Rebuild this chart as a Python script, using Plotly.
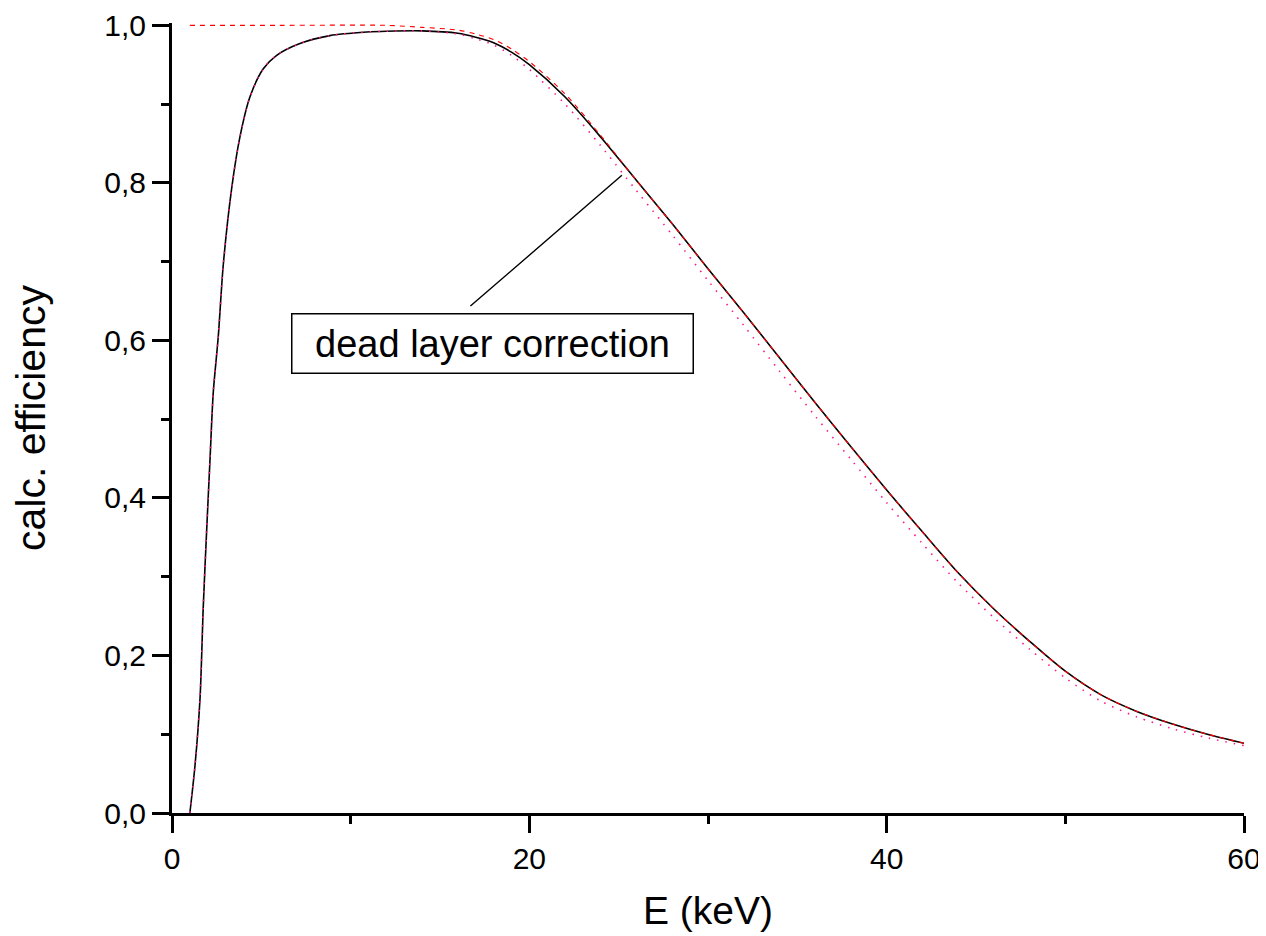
import plotly.graph_objects as go

# ---- data ----
energy_kev = [1.0, 1.29, 1.57, 1.75, 1.94, 2.13, 2.31, 2.59, 2.87, 3.34, 3.8, 4.36, 5.11, 5.86,
              7.16, 8.84, 10.9, 12.0, 14.0, 16.0, 17.0, 18.0, 19.0, 20.0, 22.0, 24.0, 26.0,
              28.0, 30.0, 32.0, 34.0, 36.0, 38.0, 40.0, 42.0, 44.0, 46.0, 48.0, 50.0, 52.0,
              54.0, 56.0, 58.0, 60.0]

eff_dead_layer = [0.0, 0.061, 0.146, 0.262, 0.359, 0.45, 0.534, 0.605, 0.696, 0.793, 0.858, 0.909,
                  0.945, 0.962, 0.977, 0.987, 0.9915, 0.9925, 0.993, 0.990, 0.985, 0.978, 0.966,
                  0.950, 0.909, 0.858, 0.803, 0.748, 0.691, 0.635, 0.578, 0.521, 0.465, 0.410,
                  0.357, 0.305, 0.259, 0.218, 0.180, 0.150, 0.129, 0.113, 0.0997, 0.0886]

eff_dotted = [0.0, 0.061, 0.146, 0.262, 0.359, 0.45, 0.534, 0.605, 0.696, 0.793, 0.858, 0.909,
              0.945, 0.962, 0.977, 0.987, 0.9915, 0.9925, 0.993, 0.989, 0.983, 0.975, 0.962,
              0.944, 0.900, 0.847, 0.790, 0.734, 0.676, 0.619, 0.561, 0.504, 0.449, 0.394,
              0.342, 0.292, 0.248, 0.208, 0.1715, 0.142, 0.122, 0.107, 0.0952, 0.0856]

energy_dashed = [1.0, 6.0, 12.0, 14.0, 16.0, 17.0, 18.0, 19.0, 20.0, 22.0, 24.0, 26.0, 28.0,
                 30.0, 32.0, 34.0, 36.0, 38.0, 40.0, 42.0, 44.0, 46.0, 48.0, 50.0, 52.0, 54.0,
                 56.0, 58.0, 60.0]
eff_dashed = [1.0, 1.0, 1.0, 0.9975, 0.994, 0.989, 0.982, 0.970, 0.954, 0.913, 0.860, 0.803,
              0.748, 0.691, 0.635, 0.578, 0.521, 0.465, 0.410, 0.357, 0.305, 0.259, 0.218,
              0.180, 0.150, 0.129, 0.113, 0.0997, 0.0886]

x_ticks = [0, 20, 40, 60]
y_ticks = [0.0, 0.2, 0.4, 0.6, 0.8, 1.0]

FONT = "Liberation Sans, Arial, sans-serif"

fig = go.Figure()
fig.add_trace(go.Scatter(x=energy_kev, y=eff_dead_layer, mode="lines",
                         line=dict(color="black", width=1.6, shape="spline", smoothing=0.8),
                         showlegend=False))
fig.add_trace(go.Scatter(x=energy_kev, y=eff_dotted, mode="lines",
                         line=dict(color="#ff1a8c", width=1.6, dash="1.5px,7px",
                                   shape="spline", smoothing=0.8),
                         showlegend=False))
fig.add_trace(go.Scatter(x=energy_dashed, y=eff_dashed, mode="lines",
                         line=dict(color="red", width=1.1, dash="5px,5px",
                                   shape="spline", smoothing=0.8),
                         showlegend=False))

# callout line + box
fig.add_annotation(x=25.18, y=0.8096, ax=16.62, ay=0.642, xref="x", yref="y",
                   axref="x", ayref="y", text="", showarrow=True, arrowhead=0,
                   arrowwidth=1.4, arrowcolor="black")
fig.add_annotation(x=17.96, y=0.5964, xref="x", yref="y", text="dead layer correction",
                   showarrow=False, font=dict(family=FONT, size=38, color="black"),
                   bordercolor="black", borderwidth=1.5, borderpad=5, bgcolor="white",
                   width=390, height=48)

axis_common = dict(showline=True, linecolor="black", linewidth=3, mirror=False,
                   ticks="outside", ticklen=17, tickwidth=3, tickcolor="black",
                   showgrid=False, zeroline=False,
                   tickfont=dict(family=FONT, size=30, color="black"))

fig.update_xaxes(range=[0, 60], tickmode="array", tickvals=x_ticks,
                 ticktext=[str(v) for v in x_ticks],
                 minor=dict(dtick=10, tick0=0, ticks="outside", ticklen=8, tickwidth=3,
                            tickcolor="black", showgrid=False),
                 title=dict(text="E (keV)", font=dict(family=FONT, size=39, color="black"),
                            standoff=23),
                 **axis_common)
fig.update_yaxes(range=[0, 1.003], tickmode="array", tickvals=y_ticks,
                 ticktext=[f"{v:.1f}".replace(".", ",") for v in y_ticks],
                 minor=dict(dtick=0.1, tick0=0, ticks="outside", ticklen=8, tickwidth=3,
                            tickcolor="black", showgrid=False),
                 title=dict(text="calc. efficiency", font=dict(family=FONT, size=41, color="black"),
                            standoff=57),
                 **axis_common)

# the page adds an 8px body margin, so the figure is sized/offset to compensate
fig.update_layout(width=1258, height=928, autosize=False,
                  margin=dict(l=164, r=22, t=15, b=123, autoexpand=False),
                  paper_bgcolor="white", plot_bgcolor="white",
                  font=dict(family=FONT, color="black"))

fig.write_html("out.html")
